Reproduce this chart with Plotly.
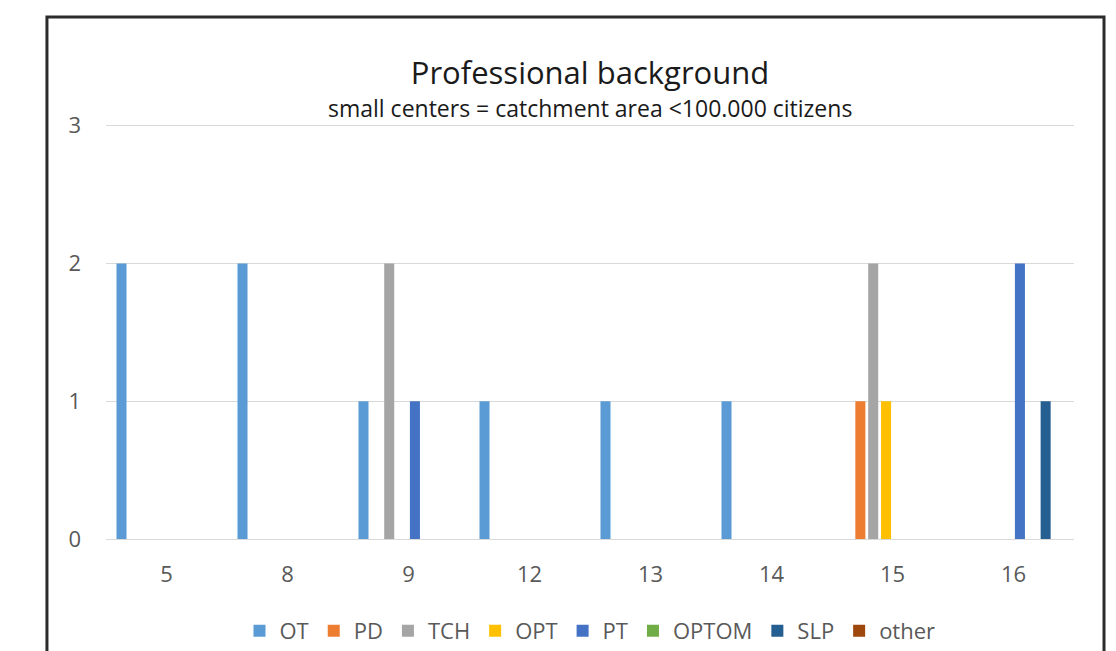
import plotly.graph_objects as go

categories = ["5", "8", "9", "12", "13", "14", "15", "16"]
series_names = ["OT", "PD", "TCH", "OPT", "PT", "OPTOM", "SLP", "other"]
OT = [2, 2, 1, 1, 1, 1, 0, 0]
PD = [0, 0, 0, 0, 0, 0, 1, 0]
TCH = [0, 0, 2, 0, 0, 0, 2, 0]
OPT = [0, 0, 0, 0, 0, 0, 1, 0]
PT = [0, 0, 1, 0, 0, 0, 0, 2]
OPTOM = [0, 0, 0, 0, 0, 0, 0, 0]
SLP = [0, 0, 0, 0, 0, 0, 0, 1]
other = [0, 0, 0, 0, 0, 0, 0, 0]
y_ticks = [0, 1, 2, 3]
title_text = "Professional background"
subtitle_text = "small centers = catchment area <100.000 citizens"

series_values = [OT, PD, TCH, OPT, PT, OPTOM, SLP, other]
colors = ["#5B9BD5", "#ED7D31", "#A5A5A5", "#FFC000", "#4472C4", "#70AD47", "#255E91", "#9E480E"]

FONT = "Open Sans"
PLOT_H = 416  # plot height in px (bottom at 539)

fig = go.Figure()
for name, vals, col in zip(series_names, series_values, colors):
    fig.add_trace(go.Bar(x=categories, y=vals, name=name, marker=dict(color=col, line=dict(width=0))))

fig.update_layout(
    width=1116, height=651,
    paper_bgcolor="white", plot_bgcolor="white",
    margin=dict(l=106, r=42, t=651 - 112 - PLOT_H, b=112, autoexpand=False),
    barmode="group", bargap=0.15, bargroupgap=0.22,
    font=dict(family=FONT, color="#595959"),
    title=dict(
        text=title_text,
        font=dict(family=FONT, size=31, color="#1a1a1a"),
        x=0.5, xanchor="center", xref="paper", y=1 - 73 / 651, yanchor="middle",
    ),
    annotations=[dict(text=subtitle_text, xref="paper", yref="paper", x=0.5, y=(539 - 108) / PLOT_H,
                      xanchor="center", yanchor="middle", showarrow=False,
                      font=dict(family=FONT, size=23, color="#1a1a1a"))],
    legend=dict(orientation="h", x=0.5, xanchor="center", yref="container", y=(651 - 631) / 651,
                yanchor="middle", font=dict(family=FONT, size=22, color="#595959"), itemwidth=30,
                traceorder="normal"),
    showlegend=True,
    shapes=[dict(type="rect", xref="paper", yref="paper",
                 x0=-0.0610, x1=1.0310, y0=-0.4, y1=(539 - 17) / PLOT_H,
                 line=dict(color="#2b2b2b", width=3), fillcolor="rgba(0,0,0,0)", layer="above")],
)
fig.update_xaxes(showgrid=False, showline=True, linecolor="#d9d9d9", linewidth=1,
                 ticks="", tickfont=dict(family=FONT, size=22, color="#595959"),
                 ticklabelstandoff=16)
fig.update_yaxes(range=[0, 3.02], tickvals=y_ticks, showgrid=True, gridcolor="#d9d9d9", gridwidth=1,
                 zeroline=False, showline=False, ticks="",
                 tickfont=dict(family=FONT, size=22, color="#595959"), ticklabelstandoff=24)

fig.write_html("out.html", config={"displayModeBar": False},
               post_script="document.body.style.margin='0';")
